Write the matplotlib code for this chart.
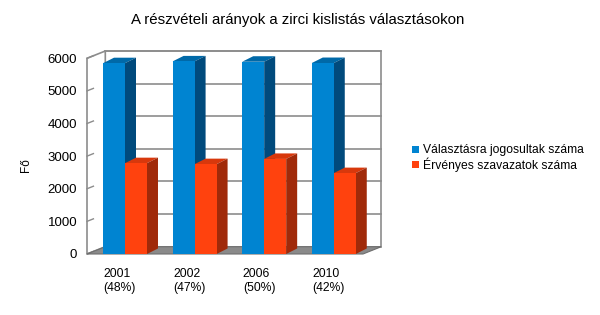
import matplotlib
matplotlib.use("Agg")
import matplotlib.pyplot as plt
from matplotlib.patches import Polygon, Rectangle
import numpy as np

plt.rcParams['font.family'] = ['Liberation Sans', 'DejaVu Sans']

years = ["2001", "2002", "2006", "2010"]
shares = ["(48%)", "(47%)", "(50%)", "(42%)"]
eligible = [5850, 5905, 5895, 5855]
valid = [2785, 2755, 2915, 2480]
series_names = ["Választásra jogosultak száma", "Érvényes szavazatok száma"]

title = "A részvételi arányok a zirci kislistás választásokon"
ylabel = "Fő"

blue = ("#0084d1", "#0069a8", "#004a7c")   # front, top, side
red = ("#ff420e", "#d8380c", "#a02a0a")

fig = plt.figure(figsize=(6, 3.15), dpi=100)
W, H = 600, 315
# front plane of the 3D box, in pixels
ax = fig.add_axes([87 / W, (H - 254) / H, (363 - 87) / W, (254 - 58.3) / H])
xl, xr = -0.546, 3.42
ax.set_xlim(xl, xr)
ax.set_ylim(0, 6000)
for s in ax.spines.values():
    s.set_visible(False)
ax.patch.set_visible(False)

px_x = 69.6                  # pixels per category
px_y = 195.7 / 6000          # pixels per unit
wdx, wdy = 18.3 / px_x, 7.3 / px_y     # wall depth offset
bdx, bdy = 11 / px_x, 5.5 / px_y       # bar depth offset
bw = 0.316

def poly(pts, fc, ec="none", lw=0, z=1):
    ax.add_patch(Polygon(pts, closed=True, facecolor=fc, edgecolor=ec,
                         linewidth=lw, zorder=z, clip_on=False))

# back wall
poly([(xl + wdx, wdy), (xr + wdx, wdy), (xr + wdx, 6000 + wdy), (xl + wdx, 6000 + wdy)],
     "white", "#8c8c8c", 1.2, z=1)
# left wall
poly([(xl, 0), (xl + wdx, wdy), (xl + wdx, 6000 + wdy), (xl, 6000)],
     "white", "#8c8c8c", 1.2, z=1)
# gridlines on back wall
for v in range(1000, 6001, 1000):
    ax.plot([xl + wdx, xr + wdx], [v + wdy, v + wdy], color="#8c8c8c", lw=1.2,
            zorder=1.5, clip_on=False)
# small ticks on the left wall
for v in range(0, 6001, 1000):
    ax.plot([xl, xl + 0.35 * wdx], [v, v + 0.35 * wdy], color="#8c8c8c", lw=1,
            zorder=1.5, clip_on=False)
# floor
poly([(xl, 0), (xr, 0), (xr + wdx, wdy), (xl + wdx, wdy)], "#8a8a8a", "#6e6e6e", 0.8, z=2)

def bar3d(x0, v, cols):
    x1 = x0 + bw
    poly([(x0, v), (x1, v), (x1 + bdx, v + bdy), (x0 + bdx, v + bdy)], cols[1], z=3)
    poly([(x1, 0), (x1 + bdx, bdy), (x1 + bdx, v + bdy), (x1, v)], cols[2], z=3)
    ax.add_patch(Rectangle((x0, 0), bw, v, facecolor=cols[0], edgecolor="none",
                           zorder=3, clip_on=False))

for i in range(len(years)):
    bar3d(i - bw, eligible[i], blue)
    bar3d(i, valid[i], red)

ax.set_yticks(range(0, 6001, 1000))
ax.tick_params(axis="y", length=0, pad=7, labelsize=9.5)
ax.set_xticks(np.arange(len(years)) - bw + 0.01)
ax.set_xticklabels([f"{y}\n{s}" for y, s in zip(years, shares)], ha="left",
                   fontsize=8.7, linespacing=1.25)
ax.tick_params(axis="x", length=0, pad=10)

fig.text(26 / W, 1 - 165 / H, ylabel, rotation=90, ha="center", va="center", fontsize=8.5)
fig.text(298 / W, 1 - 20 / H, title, ha="center", va="center", fontsize=10.8)

# legend
for k, (name, c) in enumerate(zip(series_names, [blue[0], red[0]])):
    yc = 149.5 + 15 * k
    fig.patches.append(Rectangle((412 / W, 1 - (yc + 3.5) / H), 7 / W, 7 / H,
                                 facecolor=c, edgecolor="none",
                                 transform=fig.transFigure))
    fig.text(423 / W, 1 - yc / H, name, ha="left", va="center", fontsize=8.7)

fig.savefig("out.png", dpi=100)
